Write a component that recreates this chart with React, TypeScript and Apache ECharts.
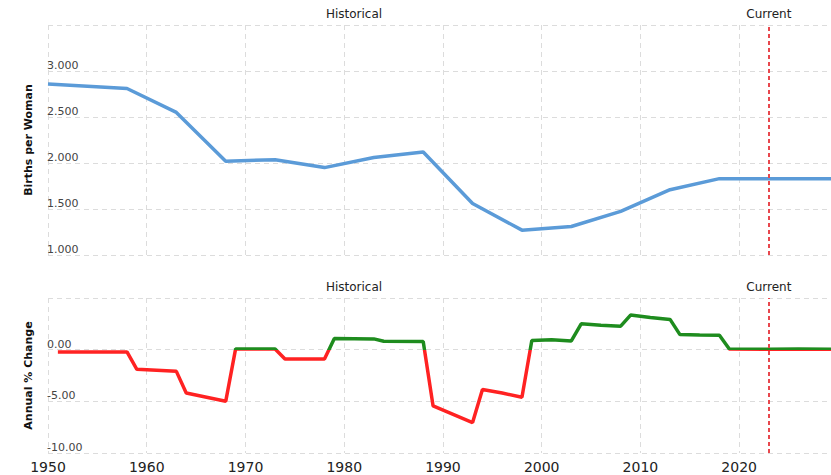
import React, { useEffect, useRef } from "react";
import * as echarts from "echarts";

const fertYears = [1950, 1958, 1963, 1968, 1973, 1978, 1983, 1988, 1993, 1998, 2003, 2008, 2013, 2018, 2023, 2030];
const fertValues = [2.86, 2.81, 2.55, 2.02, 2.035, 1.95, 2.06, 2.12, 1.56, 1.27, 1.31, 1.475, 1.71, 1.83, 1.83, 1.83];

const changeYears = [1951, 1958, 1959, 1963, 1964, 1968, 1969, 1973, 1974, 1978, 1979, 1983, 1984, 1988, 1989, 1993, 1994, 1996, 1998, 1999, 2001, 2003, 2004, 2006, 2008, 2009, 2011, 2013, 2014, 2016, 2018, 2019, 2023, 2026, 2030];
const changeValues = [-0.22, -0.22, -1.9, -2.1, -4.2, -5.0, 0.07, 0.07, -0.9, -0.9, 1.07, 1.04, 0.81, 0.8, -5.45, -7.05, -3.85, -4.2, -4.6, 0.88, 0.97, 0.85, 2.5, 2.37, 2.27, 3.35, 3.12, 2.93, 1.46, 1.42, 1.4, 0.07, 0.04, 0.06, 0.05];

const xTicks = [1950, 1960, 1970, 1980, 1990, 2000, 2010, 2020];
const currentYear = 2023;
const periodLabels = ["Historical", "Current"];

const FONT = "DejaVu Sans, Verdana, sans-serif";

export default function App() {
  const ref = useRef<HTMLDivElement>(null);
  useEffect(() => {
    document.body.style.margin = "0";
    const chart = echarts.init(ref.current!, null, { renderer: "svg" });
    const gridColor = "#dcdcdc";
    const xAxisBase = (gridIndex: number, showLabels: boolean) => ({
      type: "value",
      gridIndex,
      min: 1950,
      max: 2029.3,
      interval: 10,
      axisLine: { show: false },
      axisTick: { show: false },
      splitLine: { show: true, lineStyle: { color: gridColor, type: [5, 4], width: 1 } },
      axisLabel: {
        show: showLabels,
        fontSize: 14,
        color: "#222",
        fontFamily: FONT,
        margin: 7,
        showMaxLabel: false,
        formatter: (v: number) => (xTicks.includes(v) ? String(v) : ""),
      },
    });
    const makeMarkLine = () => ({
      silent: true,
      symbol: ["none", "none"],
      label: { show: false },
      lineStyle: { color: "#e8474d", type: [4, 3], width: 2 },
      data: [{ xAxis: currentYear }],
    });
    const xFor = (year: number) => 48 + ((year - 1950) / 79.3) * 783;
    const textEl = (text: string, x: number, y: number) => ({
      type: "text",
      x,
      y,
      style: { text, align: "center", verticalAlign: "middle", font: `12px ${FONT}`, fill: "#222" },
    });
    const yAxisBase = (gridIndex: number, name: string, min: number, max: number, interval: number, digits: number) => ({
      type: "value",
      gridIndex,
      min,
      max,
      interval,
      name,
      nameLocation: "middle",
      nameRotate: 90,
      nameGap: 14,
      nameTextStyle: { fontWeight: "bold", fontSize: 11, color: "#111", fontFamily: FONT },
      axisLine: { show: false },
      axisTick: { show: false },
      splitLine: { lineStyle: { color: gridColor, type: [5, 4] } },
      axisLabel: {
        inside: true,
        margin: -1,
        verticalAlign: "bottom",
        showMaxLabel: false,
        fontSize: 11,
        color: "#444",
        fontFamily: FONT,
        formatter: (v: number) => v.toFixed(digits),
      },
    });
    // bottom grid: top 298, height 155, y range -10..5 -> zero sits 1/3 down
    const zeroOffset = 5 / 15;
    const changeGradient = new echarts.graphic.LinearGradient(
      0, 298, 0, 453,
      [
        { offset: 0, color: "#1e8c1e" },
        { offset: zeroOffset, color: "#1e8c1e" },
        { offset: zeroOffset, color: "#ff2222" },
        { offset: 1, color: "#ff2222" },
      ],
      true
    );
    chart.setOption({
      animation: false,
      grid: [
        { left: 48, right: 0, top: 25, height: 230 },
        { left: 48, right: 0, top: 298, height: 155 },
      ],
      xAxis: [xAxisBase(0, false), xAxisBase(1, true)],
      yAxis: [
        yAxisBase(0, "Births per Woman", 1, 3.5, 0.5, 3),
        yAxisBase(1, "Annual % Change", -10, 5, 5, 2),
      ],
      series: [
        {
          type: "line",
          xAxisIndex: 0,
          yAxisIndex: 0,
          data: fertYears.map((y, i) => [y, fertValues[i]]),
          showSymbol: false,
          lineStyle: { color: "#5b9bd8", width: 3.5 },
          itemStyle: { color: "#5b9bd8" },
          markLine: makeMarkLine(),
        },
        {
          type: "line",
          xAxisIndex: 1,
          yAxisIndex: 1,
          data: changeYears.map((y, i) => [y, changeValues[i]]),
          showSymbol: false,
          lineStyle: { width: 3.5, color: changeGradient },
          itemStyle: { color: "#1e8c1e" },
          markLine: makeMarkLine(),
        },
      ],
      graphic: [
        textEl(periodLabels[0], 354, 14),
        textEl(periodLabels[1], xFor(currentYear), 14),
        textEl(periodLabels[0], 354, 287),
        textEl(periodLabels[1], xFor(currentYear), 287),
      ],
    });
    return () => chart.dispose();
  }, []);
  return <div ref={ref} style={{ width: 831, height: 475 }} />;
}
